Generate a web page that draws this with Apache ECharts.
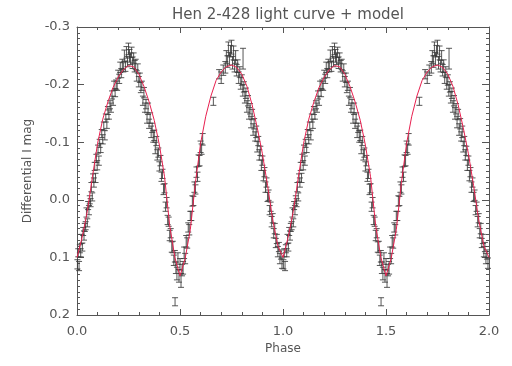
<!DOCTYPE html>
<html>
<head>
<meta charset="utf-8">
<script src="https://cdn.jsdelivr.net/npm/echarts@6/dist/echarts.min.js"></script>
<style>
  html, body { margin: 0; padding: 0; background: #fff; }
  #chart { width: 512px; height: 366px; }
</style>
</head>
<body>
<div id="chart"></div>
<script>
// one folded cycle of observations (phase 0..1), shown twice on the plot
const phase = [
  0.002, 0.006, 0.010, 0.014, 0.018, 0.022, 0.026, 0.030, 0.034, 0.038,
  0.042, 0.046, 0.050, 0.054, 0.058, 0.062, 0.066, 0.070, 0.074, 0.078,
  0.082, 0.086, 0.090, 0.094, 0.098, 0.102, 0.106, 0.110, 0.115, 0.120,
  0.125, 0.130, 0.135, 0.140, 0.145, 0.150, 0.155, 0.160, 0.165, 0.170,
  0.175, 0.180, 0.185, 0.190, 0.195, 0.200, 0.205, 0.210, 0.215, 0.220,
  0.225, 0.230, 0.235, 0.240, 0.245, 0.250, 0.255, 0.260, 0.265, 0.270,
  0.275, 0.280, 0.285, 0.290, 0.295, 0.300, 0.305, 0.310, 0.315, 0.320,
  0.325, 0.330, 0.335, 0.340, 0.345, 0.350, 0.355, 0.360, 0.365, 0.370,
  0.375, 0.380, 0.385, 0.390, 0.395, 0.400, 0.405, 0.410, 0.415, 0.420,
  0.425, 0.430, 0.435, 0.440, 0.445, 0.450, 0.455, 0.460, 0.465, 0.470,
  0.475, 0.476, 0.480, 0.485, 0.490, 0.495, 0.500, 0.505, 0.510, 0.515,
  0.520, 0.525, 0.530, 0.535, 0.540, 0.545, 0.550, 0.555, 0.560, 0.565,
  0.570, 0.575, 0.580, 0.585, 0.590, 0.595, 0.600, 0.605, 0.610, 0.662,
  0.690, 0.700, 0.710, 0.720, 0.725, 0.730, 0.735, 0.740, 0.745, 0.750,
  0.755, 0.760, 0.765, 0.770, 0.775, 0.780, 0.785, 0.790, 0.795, 0.800,
  0.805, 0.806, 0.810, 0.815, 0.820, 0.825, 0.830, 0.835, 0.840, 0.845,
  0.850, 0.855, 0.860, 0.865, 0.870, 0.875, 0.880, 0.885, 0.890, 0.895,
  0.900, 0.905, 0.910, 0.915, 0.920, 0.925, 0.930, 0.935, 0.940, 0.945,
  0.950, 0.955, 0.960, 0.965, 0.970, 0.975, 0.980, 0.985, 0.990, 0.995
];
const mag = [
  0.112, 0.092, 0.115, 0.085, 0.092, 0.068, 0.082, 0.055, 0.062, 0.048,
  0.045, 0.022, 0.040, 0.010, 0.018, 0.000, 0.005, -0.022, -0.005, -0.038,
  -0.030, -0.058, -0.038, -0.072, -0.060, -0.088, -0.068, -0.098, -0.090, -0.115,
  -0.105, -0.128, -0.112, -0.142, -0.132, -0.155, -0.148, -0.165, -0.160, -0.182,
  -0.172, -0.198, -0.186, -0.200, -0.198, -0.218, -0.210, -0.230, -0.220, -0.235,
  -0.230, -0.250, -0.232, -0.256, -0.240, -0.262, -0.250, -0.245, -0.256, -0.238,
  -0.246, -0.232, -0.235, -0.215, -0.228, -0.205, -0.212, -0.195, -0.198, -0.172,
  -0.186, -0.160, -0.166, -0.142, -0.158, -0.132, -0.142, -0.118, -0.125, -0.110,
  -0.112, -0.090, -0.102, -0.078, -0.082, -0.058, -0.068, -0.040, -0.045, -0.018,
  -0.020, 0.012, 0.005, 0.035, 0.038, 0.062, 0.058, 0.082, 0.082, 0.105,
  0.098, 0.177, 0.118, 0.128, 0.102, 0.132, 0.112, 0.140, 0.122, 0.118,
  0.092, 0.102, 0.072, 0.075, 0.048, 0.052, 0.028, 0.028, 0.002, 0.002,
  -0.022, -0.018, -0.048, -0.040, -0.068, -0.068, -0.092, -0.088, -0.105, -0.171,
  -0.218, -0.212, -0.225, -0.230, -0.248, -0.240, -0.262, -0.245, -0.258, -0.265,
  -0.238, -0.255, -0.232, -0.248, -0.225, -0.232, -0.212, -0.222, -0.202, -0.208,
  -0.190, -0.245, -0.196, -0.178, -0.185, -0.162, -0.172, -0.150, -0.158, -0.135,
  -0.148, -0.122, -0.132, -0.110, -0.118, -0.092, -0.102, -0.078, -0.085, -0.060,
  -0.068, -0.042, -0.048, -0.022, -0.030, -0.005, -0.008, 0.018, 0.012, 0.038,
  0.032, 0.058, 0.050, 0.075, 0.068, 0.090, 0.082, 0.102, 0.095, 0.110
];
const magErr = [
  0.008, 0.007, 0.008, 0.007, 0.007, 0.008, 0.007, 0.007, 0.008, 0.007,
  0.007, 0.008, 0.007, 0.007, 0.008, 0.007, 0.007, 0.008, 0.007, 0.007,
  0.008, 0.007, 0.008, 0.007, 0.008, 0.007, 0.008, 0.007, 0.008, 0.007,
  0.008, 0.007, 0.008, 0.007, 0.008, 0.007, 0.008, 0.007, 0.008, 0.007,
  0.008, 0.008, 0.007, 0.008, 0.008, 0.007, 0.008, 0.009, 0.008, 0.009,
  0.008, 0.010, 0.009, 0.010, 0.009, 0.010, 0.011, 0.010, 0.009, 0.010,
  0.009, 0.010, 0.009, 0.009, 0.008, 0.009, 0.008, 0.009, 0.008, 0.008,
  0.009, 0.008, 0.008, 0.009, 0.010, 0.008, 0.009, 0.010, 0.008, 0.010,
  0.009, 0.010, 0.008, 0.009, 0.008, 0.008, 0.009, 0.008, 0.008, 0.009,
  0.008, 0.008, 0.009, 0.008, 0.008, 0.009, 0.008, 0.009, 0.010, 0.009,
  0.010, 0.007, 0.010, 0.011, 0.010, 0.011, 0.010, 0.012, 0.010, 0.011,
  0.010, 0.009, 0.010, 0.009, 0.008, 0.009, 0.008, 0.008, 0.009, 0.008,
  0.009, 0.008, 0.009, 0.008, 0.010, 0.009, 0.010, 0.009, 0.010, 0.007,
  0.008, 0.010, 0.009, 0.010, 0.011, 0.010, 0.012, 0.011, 0.010, 0.012,
  0.011, 0.012, 0.010, 0.011, 0.010, 0.011, 0.010, 0.009, 0.010, 0.009,
  0.010, 0.018, 0.009, 0.010, 0.009, 0.010, 0.009, 0.010, 0.009, 0.010,
  0.009, 0.010, 0.009, 0.008, 0.010, 0.009, 0.008, 0.009, 0.008, 0.009,
  0.008, 0.009, 0.008, 0.009, 0.008, 0.008, 0.009, 0.008, 0.008, 0.009,
  0.008, 0.008, 0.009, 0.008, 0.008, 0.009, 0.008, 0.009, 0.008, 0.009
];

// model curve for one cycle
const modelPhase = [
  0.000, 0.025, 0.050, 0.075, 0.100, 0.125, 0.150, 0.175, 0.200, 0.225,
  0.250, 0.275, 0.300, 0.325, 0.350, 0.375, 0.400, 0.425, 0.450, 0.475,
  0.500, 0.525, 0.550, 0.575, 0.600, 0.625, 0.650, 0.675, 0.700, 0.725,
  0.750, 0.775, 0.800, 0.825, 0.850, 0.875, 0.900, 0.925, 0.950, 0.975
];
const modelMag = [
  0.100, 0.065, 0.020, -0.040, -0.098, -0.140, -0.170, -0.195, -0.213, -0.226,
  -0.233, -0.231, -0.218, -0.197, -0.170, -0.138, -0.095, -0.040, 0.045, 0.100,
  0.132, 0.102, 0.052, -0.030, -0.098, -0.145, -0.180, -0.207, -0.222, -0.231,
  -0.234, -0.230, -0.218, -0.197, -0.165, -0.125, -0.080, -0.025, 0.035, 0.080
];

const cycles = [0, 1];
const points = [];
cycles.forEach((c) => {
  phase.forEach((p, i) => points.push([p + c, mag[i], magErr[i]]));
});
const model = [];
cycles.forEach((c) => {
  modelPhase.forEach((p, i) => model.push([p + c, modelMag[i]]));
});
model.push([2.0, modelMag[0]]);

const txt = '#555';
const font = 'DejaVu Sans';

const chart = echarts.init(document.getElementById('chart'), null, { renderer: 'canvas' });

const axisCommon = {
  type: 'value',
  axisLine: { show: true, onZero: false, lineStyle: { color: '#555', width: 1 } },
  splitLine: { show: false },
  minorSplitLine: { show: false },
};

chart.setOption({
  animation: false,
  backgroundColor: '#fff',
  title: {
    text: 'Hen 2-428 light curve + model',
    left: 283,
    textAlign: 'center',
    top: 3,
    textStyle: { color: txt, fontSize: 15, fontWeight: 'normal', fontFamily: font },
  },
  grid: { left: 77, right: 23, top: 27, bottom: 51 },
  xAxis: [
    Object.assign({}, axisCommon, {
      position: 'bottom',
      min: 0, max: 2, interval: 0.5,
      name: 'Phase',
      nameLocation: 'middle',
      nameGap: 27,
      nameTextStyle: { color: txt, fontSize: 12, fontFamily: font },
      axisTick: { show: true, inside: true, length: 6, lineStyle: { color: '#555' } },
      minorTick: { show: true, splitNumber: 5, length: 3, lineStyle: { color: '#555' } },
      axisLabel: { color: txt, fontSize: 13, fontFamily: font, margin: 10, formatter: (v) => v.toFixed(1) },
    }),
    Object.assign({}, axisCommon, {
      position: 'top',
      min: 0, max: 2, interval: 0.5,
      axisTick: { show: true, inside: true, length: 6, lineStyle: { color: '#555' } },
      minorTick: { show: true, splitNumber: 5, length: 3, lineStyle: { color: '#555' } },
      axisLabel: { show: false },
    }),
  ],
  yAxis: [
    Object.assign({}, axisCommon, {
      position: 'left',
      inverse: true,
      min: -0.3, max: 0.2, interval: 0.1,
      name: 'Differential I mag',
      nameLocation: 'middle',
      nameGap: 36,
      nameTextStyle: { color: txt, fontSize: 12, fontFamily: font },
      axisTick: { show: true, inside: true, length: 7, lineStyle: { color: '#555' } },
      minorTick: { show: true, splitNumber: 10, length: 3, lineStyle: { color: '#555' } },
      axisLabel: { color: txt, fontSize: 13, fontFamily: font, margin: 7, formatter: (v) => v.toFixed(1) },
    }),
    Object.assign({}, axisCommon, {
      position: 'right',
      inverse: true,
      min: -0.3, max: 0.2, interval: 0.1,
      axisTick: { show: true, inside: true, length: 7, lineStyle: { color: '#555' } },
      minorTick: { show: true, splitNumber: 10, length: 3, lineStyle: { color: '#555' } },
      axisLabel: { show: false },
    }),
  ],
  series: [
    {
      name: 'data',
      type: 'custom',
      xAxisIndex: 0,
      yAxisIndex: 0,
      data: points,
      encode: { x: 0, y: 1 },
      renderItem: (params, api) => {
        const x = api.value(0);
        const y = api.value(1);
        const e = api.value(2);
        const hi = api.coord([x, y - e]);
        const lo = api.coord([x, y + e]);
        const w = 3;
        const style = { stroke: '#3a3a3a', lineWidth: 1, opacity: 0.85 };
        return {
          type: 'group',
          children: [
            { type: 'line', shape: { x1: hi[0], y1: hi[1], x2: lo[0], y2: lo[1] }, style },
            { type: 'line', shape: { x1: hi[0] - w, y1: hi[1], x2: hi[0] + w, y2: hi[1] }, style },
            { type: 'line', shape: { x1: lo[0] - w, y1: lo[1], x2: lo[0] + w, y2: lo[1] }, style },
          ],
        };
      },
      z: 2,
    },
    {
      name: 'model',
      type: 'line',
      xAxisIndex: 0,
      yAxisIndex: 0,
      data: model,
      showSymbol: false,
      smooth: false,
      lineStyle: { color: '#e8204f', width: 1 },
      z: 3,
    },
  ],
});
</script>
</body>
</html>
